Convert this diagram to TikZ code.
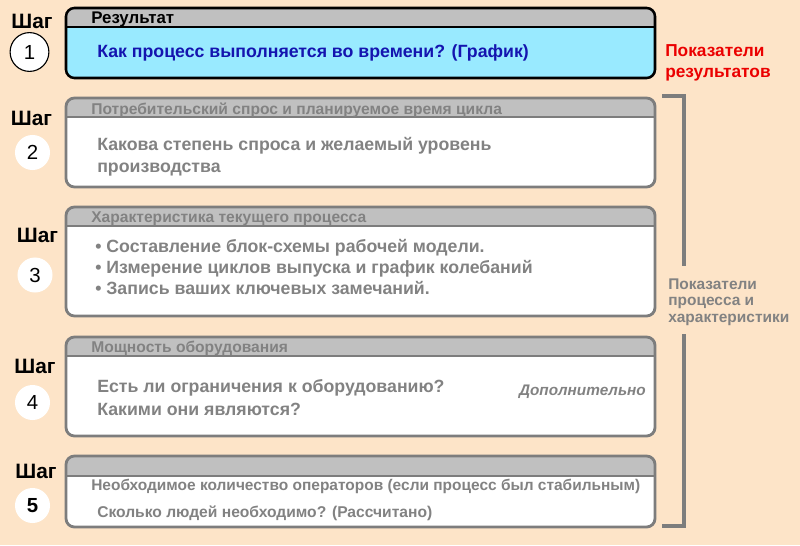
\documentclass[tikz,border=0pt]{standalone}
\usepackage{fontspec}
\setmainfont{Liberation Sans}
\usetikzlibrary{positioning}

\definecolor{peach}{RGB}{253,228,200}
\definecolor{headgray}{RGB}{192,192,192}
\definecolor{framegray}{RGB}{125,125,125}
\definecolor{textgray}{RGB}{130,130,130}
\definecolor{resultcyan}{RGB}{153,234,255}
\definecolor{resultblue}{RGB}{20,20,175}
\definecolor{resultred}{RGB}{235,0,0}

\tikzset{
  stepword/.style={font=\bfseries\fontsize{14.8}{16}\selectfont, inner sep=0pt},
  stepnum/.style={circle, fill=white, inner sep=0pt, minimum size=0.875cm,
    font=\fontsize{14.5}{16}\selectfont},
  headtext/.style={anchor=base west, inner sep=0pt, text=textgray,
    font=\bfseries\fontsize{11.1}{13}\selectfont},
  bodytext/.style={anchor=base west, inner sep=0pt, text=textgray,
    font=\bfseries\fontsize{12.6}{15}\selectfont},
  frame/.style={draw=framegray, line width=2pt, rounded corners=6pt},
  sidetext/.style={anchor=base west, inner sep=0pt,
    font=\bfseries\fontsize{11}{13}\selectfont}
}

\begin{document}
\begin{tikzpicture}[x=0.025cm,y=-0.025cm]
\useasboundingbox (0,0) rectangle (800,545);
\fill[peach] (0,0) rectangle (800,545);

% step 1
\begin{scope}
\clip[rounded corners=6pt] (66,8) rectangle (655,78);
\fill[resultcyan] (66,8) rectangle (655,78);
\fill[headgray] (66,8) rectangle (655,27);
\draw[line width=1pt] (66,27) -- (655,27);
\end{scope}
\draw[line width=1.8pt, rounded corners=6pt] (66,8) rectangle (655,78);
\node[headtext, text=black, font=\bfseries\fontsize{12}{14}\selectfont] (head1) at (91,24) {Результат};
\node[bodytext, text=resultblue] (body1) at (97,58) {Как процесс выполняется во времени? (График)};
\node[stepword] (word1) at (32,21) {Шаг};
\node[stepnum, draw=black, line width=0.8pt, minimum size=0.97cm] (num1) at (29.5,52) {1};

% step 2
\begin{scope}
\clip[rounded corners=6pt] (66,98) rectangle (655,187);
\fill[white] (66,98) rectangle (655,187);
\fill[headgray] (66,98) rectangle (655,117);
\draw[framegray, line width=1pt] (66,117) -- (655,117);
\end{scope}
\draw[frame] (66,98) rectangle (655,187);
\node[headtext] (head2) at (91,114) {Потребительский спрос и планируемое время цикла};
\node[bodytext] (body2a) at (97,150) {Какова степень спроса и желаемый уровень};
\node[bodytext] (body2b) at (97,172) {производства};
\node[stepword] (word2) at (31.5,118.5) {Шаг};
\node[stepnum] (num2) at (32.5,152.5) {2};

% step 3
\begin{scope}
\clip[rounded corners=6pt] (66,207) rectangle (655,316);
\fill[white] (66,207) rectangle (655,316);
\fill[headgray] (66,207) rectangle (655,226);
\draw[framegray, line width=1pt] (66,226) -- (655,226);
\end{scope}
\draw[frame] (66,207) rectangle (655,316);
\node[headtext] (head3) at (91,222) {Характеристика текущего процесса};
\node[bodytext] (body3a) at (95,252) {• Составление блок-схемы рабочей модели.};
\node[bodytext] (body3b) at (95,273) {• Измерение циклов выпуска и график колебаний};
\node[bodytext] (body3c) at (95,294) {• Запись ваших ключевых замечаний.};
\node[stepword] (word3) at (37.5,235.5) {Шаг};
\node[stepnum] (num3) at (35,275) {3};

% step 4
\begin{scope}
\clip[rounded corners=6pt] (66,337) rectangle (655,436);
\fill[white] (66,337) rectangle (655,436);
\fill[headgray] (66,337) rectangle (655,356);
\draw[framegray, line width=1pt] (66,356) -- (655,356);
\end{scope}
\draw[frame] (66,337) rectangle (655,436);
\node[headtext] (head4) at (91,352) {Мощность оборудования};
\node[bodytext] (body4a) at (97,392) {Есть ли ограничения к оборудованию?};
\node[bodytext] (body4b) at (97,415) {Какими они являются?};
\node[headtext, anchor=base east, font=\bfseries\itshape\fontsize{10.9}{13}\selectfont] (extra4) at (646,395) {Дополнительно};
\node[stepword] (word4) at (35,366) {Шаг};
\node[stepnum] (num4) at (32.5,402.5) {4};

% step 5
\begin{scope}
\clip[rounded corners=6pt] (66,456) rectangle (655,527);
\fill[white] (66,456) rectangle (655,527);
\fill[headgray] (66,456) rectangle (655,476);
\draw[framegray, line width=1pt] (66,476) -- (655,476);
\end{scope}
\draw[frame] (66,456) rectangle (655,527);
\node[headtext, font=\bfseries\fontsize{11}{13}\selectfont] (head5) at (91,490) {Необходимое количество операторов (если процесс был стабильным)};
\node[headtext] (body5) at (97,517) {Сколько людей необходимо? (Рассчитано)};
\node[stepword] (word5) at (36,471.5) {Шаг};
\node[stepnum, font=\bfseries\fontsize{14.5}{16}\selectfont] (num5) at (32.5,505.5) {5};

% right side
\node[sidetext, text=resultred, font=\bfseries\fontsize{12.3}{14}\selectfont] (result1) at (665,57) {Показатели};
\node[sidetext, text=resultred, font=\bfseries\fontsize{12.3}{14}\selectfont] (result2) at (665,77) {результатов};
\node[sidetext, text=textgray] (process1) at (668,289) {Показатели};
\node[sidetext, text=textgray] (process2) at (668,305.5) {процесса и};
\node[sidetext, text=textgray] (process3) at (668,322) {характеристики};
\draw[framegray, line width=2.8pt] (662,96) -- (684,96) -- (684,266);
\draw[framegray, line width=2.8pt] (684,334) -- (684,526) -- (662,526);
\end{tikzpicture}
\end{document}
